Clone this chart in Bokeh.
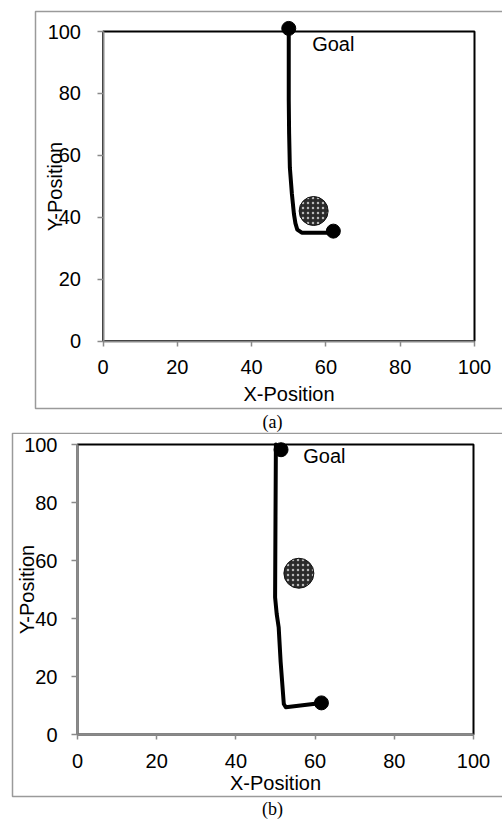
import math
from bokeh.plotting import figure
from bokeh.layouts import column
from bokeh.models import Range1d, Label, BoxAnnotation, FixedTicker
from bokeh.core.properties import value
from bokeh.embed import file_html
from bokeh.resources import INLINE

# ---------------- data ----------------
tick_values = [0, 20, 40, 60, 80, 100]

# panel (a)
path_a_x = [50.0, 50.0, 50.1, 50.3, 50.85, 51.4, 51.8, 52.3, 53.5, 62.0]
path_a_y = [101.0, 78.0, 67.0, 56.0, 47.5, 41.0, 38.0, 36.0, 35.0, 35.0]
goal_a_x = [50.0]
goal_a_y = [101.0]
start_a_x = [62.0]
start_a_y = [35.5]
obst_a_x = [56.7]
obst_a_y = [42.0]
label_a_x = [56.3]
label_a_y = [96.0]

# panel (b)
path_b_x = [50.1, 50.0, 49.9, 50.3, 50.8, 51.3, 52.1, 52.6, 61.6]
path_b_y = [100.0, 75.0, 47.3, 41.6, 37.0, 25.0, 10.5, 9.4, 10.9]
goal_b_x = [51.4]
goal_b_y = [98.2]
start_b_x = [61.6]
start_b_y = [10.9]
obst_b_x = [55.9]
obst_b_y = [55.6]
label_b_x = [57.0]
label_b_y = [95.9]

goal_text = ["Goal"]
x_title = "X-Position"
y_title = "Y-Position"
captions = ["(a)", "(b)"]

SANS = "Liberation Sans"
SERIF = "Liberation Serif"
AXIS_GREY = "#8a8a8a"


def make_panel(cfg, px, py, gx, gy, sx, sy, ox, oy, lx, ly, caption):
    W, H = cfg["W"], cfg["H"]
    x0p, x100p = cfg["xpx"]      # canvas px of x=0 and x=100
    y0p, y100p = cfg["ypx"]      # canvas px of y=0 and y=100
    kx = (x100p - x0p) / 100.0
    ky = (y0p - y100p) / 100.0

    def dx(pxv):
        return (pxv - x0p) / kx

    def dy(pyv):
        return (y0p - pyv) / ky

    p = figure(width=W, height=H, output_backend="svg", toolbar_location=None,
               x_range=Range1d(dx(0), dx(W)), y_range=Range1d(dy(H), dy(0)),
               min_border=0)
    p.outline_line_color = None
    p.grid.visible = False
    p.background_fill_color = "white"
    p.border_fill_color = "white"

    for ax in (p.xaxis, p.yaxis):
        ax.ticker = FixedTicker(ticks=tick_values)
        ax.bounds = (0, 100)
        ax.fixed_location = 0
        ax.axis_line_color = AXIS_GREY
        ax.axis_line_width = 2
        ax.major_tick_line_color = AXIS_GREY
        ax.major_tick_line_width = 1.5
        ax.major_tick_in = 0
        ax.minor_tick_line_color = None
        ax.major_label_text_font = SANS
        ax.major_label_text_font_size = "20px"
        ax.major_label_text_color = "black"
        ax.axis_label_text_font = SANS
        ax.axis_label_text_font_size = "20px"
        ax.axis_label_text_font_style = "normal"
        ax.axis_label_text_color = "black"
    p.xaxis.major_tick_out = 5
    p.yaxis.major_tick_out = 6
    p.xaxis.major_label_standoff = cfg["xstand"]
    p.yaxis.major_label_standoff = cfg["ystand"]
    p.xaxis.axis_label = x_title
    p.yaxis.axis_label = y_title
    p.xaxis.axis_label_standoff = cfg["xlabstand"]
    p.yaxis.axis_label_standoff = cfg["ylabstand"]

    # outer grey frame of the chart (right edge lies beyond the page)
    ob = cfg["outer"]
    p.add_layout(BoxAnnotation(left=dx(ob[0]), right=dx(ob[1]), top=dy(ob[2]), bottom=dy(ob[3]),
                               fill_alpha=0, line_color="#9a9a9a", line_alpha=1,
                               line_width=1.5, level="underlay"))
    # plot-area border (black)
    p.add_layout(BoxAnnotation(left=0, right=100, bottom=0, top=100,
                               fill_alpha=0, line_color="black", line_alpha=1,
                               line_width=2, level="underlay"))

    p.line(px, py, line_color="black", line_width=4, line_join="round", line_cap="round")
    p.scatter(gx, gy, size=14, color="black")
    p.scatter(sx, sy, size=14, color="black")
    p.scatter(ox, oy, size=cfg["osize"], fill_color="#2b2b2b", line_color="#111111",
              line_width=1, hatch_pattern="dot", hatch_color="#b8b8b8",
              hatch_scale=5, hatch_weight=1.5)
    p.text(x=lx, y=ly, text=goal_text, text_font=value(SANS), text_font_size="20px",
           text_baseline="middle", text_align="left", text_color="black")

    cp = cfg["cap"]
    p.add_layout(Label(x=dx(cp[0]), y=dy(cp[1]), text=caption, text_align="center",
                       text_baseline="middle", text_font=SERIF, text_font_size="18px",
                       text_color="black"))
    return p


# all pixel positions are canvas pixels of each panel
cfg_a = dict(W=502, H=432, xpx=(102.5, 474), ypx=(340.5, 31),
             xstand=14, ystand=16, xlabstand=5, ylabstand=-21,
             outer=(35, 530, 11, 408), osize=29, cap=(272, 421))
cfg_b = dict(W=502, H=388, xpx=(77, 473), ypx=(302, 12),
             xstand=14, ystand=14, xlabstand=1, ylabstand=-17,
             outer=(12, 530, 0.75, 364), osize=30, cap=(272, 376))

pa = make_panel(cfg_a, path_a_x, path_a_y, goal_a_x, goal_a_y, start_a_x, start_a_y,
                obst_a_x, obst_a_y, label_a_x, label_a_y, captions[0])
pb = make_panel(cfg_b, path_b_x, path_b_y, goal_b_x, goal_b_y, start_b_x, start_b_y,
                obst_b_x, obst_b_y, label_b_x, label_b_y, captions[1])

layout = column(pa, pb, spacing=0)
open("out.html", "w").write(file_html(layout, INLINE))
